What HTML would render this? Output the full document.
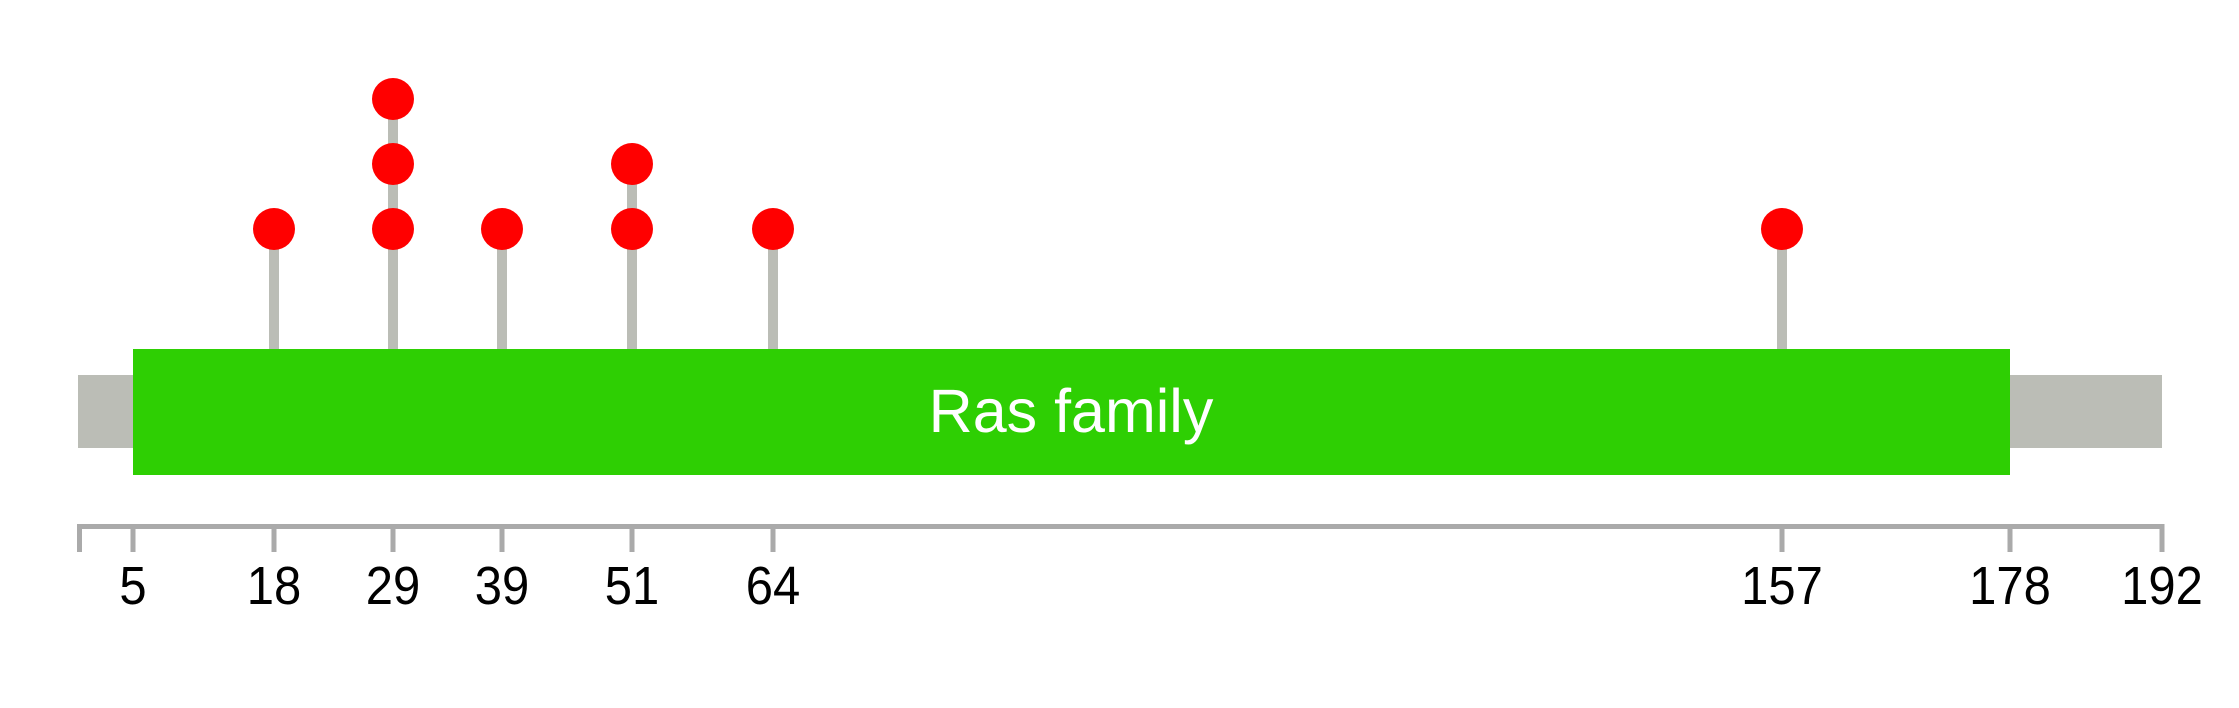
<!DOCTYPE html>
<html><head><meta charset="utf-8"><style>html,body{margin:0;padding:0;background:#fff}</style></head>
<body>
<svg width="2239" height="708" xmlns="http://www.w3.org/2000/svg" style="display:block">
<rect width="2239" height="708" fill="#fff"/>
<rect x="78" y="375" width="2084" height="73" fill="#bbbdb6"/>
<g stroke="#bbbdb6" stroke-width="10">
<line x1="274" y1="229" x2="274" y2="350"/>
<line x1="393" y1="99" x2="393" y2="350"/>
<line x1="502" y1="229" x2="502" y2="350"/>
<line x1="632" y1="164" x2="632" y2="350"/>
<line x1="773" y1="229" x2="773" y2="350"/>
<line x1="1782" y1="229" x2="1782" y2="350"/>
</g>
<rect x="133" y="349" width="1877" height="126" fill="#2ecf03"/>
<text x="1071" y="432" font-family="Liberation Sans, sans-serif" font-size="61" fill="#fff" text-anchor="middle">Ras family</text>
<g fill="#ff0000">
<circle cx="274" cy="229" r="21"/>
<circle cx="393" cy="229" r="21"/>
<circle cx="393" cy="164" r="21"/>
<circle cx="393" cy="99" r="21"/>
<circle cx="502" cy="229" r="21"/>
<circle cx="632" cy="229" r="21"/>
<circle cx="632" cy="164" r="21"/>
<circle cx="773" cy="229" r="21"/>
<circle cx="1782" cy="229" r="21"/>
</g>
<g stroke="#aaaaaa" stroke-width="5">
<line x1="77" y1="526.5" x2="2164" y2="526.5"/>
<line x1="79.5" y1="524" x2="79.5" y2="552"/>
<line x1="133" y1="526" x2="133" y2="552"/>
<line x1="274" y1="526" x2="274" y2="552"/>
<line x1="393" y1="526" x2="393" y2="552"/>
<line x1="502" y1="526" x2="502" y2="552"/>
<line x1="632" y1="526" x2="632" y2="552"/>
<line x1="773" y1="526" x2="773" y2="552"/>
<line x1="1782" y1="526" x2="1782" y2="552"/>
<line x1="2010" y1="526" x2="2010" y2="552"/>
<line x1="2162" y1="524" x2="2162" y2="552"/>
</g>
<g font-family="Liberation Sans, sans-serif" font-size="49" fill="#000" text-anchor="middle" transform="translate(0,604) scale(1,1.1)">
<text x="133" y="0">5</text>
<text x="274" y="0">18</text>
<text x="393" y="0">29</text>
<text x="502" y="0">39</text>
<text x="632" y="0">51</text>
<text x="773" y="0">64</text>
<text x="1782" y="0">157</text>
<text x="2010" y="0">178</text>
<text x="2162" y="0">192</text>
</g>
</svg>
</body></html>
